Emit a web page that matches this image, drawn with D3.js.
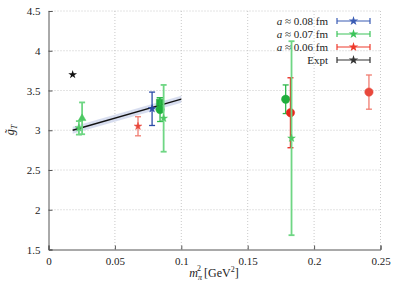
<!DOCTYPE html>
<html><head><meta charset="utf-8">
<script src="https://cdn.jsdelivr.net/npm/d3@7"></script>
<style>body{margin:0;background:#fff}svg{display:block}text{font-family:"Liberation Serif","DejaVu Serif",serif;fill:#222}</style>
</head><body><svg id="c" width="398" height="284"></svg>
<script>
// ---- data ----
const xTicks = [0, 0.05, 0.1, 0.15, 0.2, 0.25];
const xTickLabels = ["0", "0.05", "0.1", "0.15", "0.2", "0.25"];
const yTicks = [1.5, 2, 2.5, 3, 3.5, 4, 4.5];
const yTickLabels = ["1.5", "2", "2.5", "3", "3.5", "4", "4.5"];

const seriesNames = ["a ≈ 0.08 fm", "a ≈ 0.07 fm", "a ≈ 0.06 fm", "Expt"];
const seriesColors = ["#3a5cb4", "#3cc45a", "#ee3a2c", "#333333"];

// points: x (m_pi^2), y (g_T), error, series index, marker, shade
const ptX      = [0.0229, 0.0253, 0.0674, 0.0780, 0.0837, 0.0840, 0.0867, 0.1786, 0.1822, 0.1830, 0.2413];
const ptY      = [3.03,   3.15,   3.05,   3.27,   3.35,   3.26,   3.15,   3.39,   3.22,   2.90,   3.48];
const ptErr    = [0.085,  0.20,   0.12,   0.21,   0.06,   0.15,   0.42,   0.18,   0.44,   1.22,   0.215];
const ptSeries = [1,      1,      2,      0,      1,      1,      1,      1,      2,      1,      2];
const ptMarker = ["star", "triangle", "star", "star", "square", "circle", "star", "circle", "circle", "star", "circle"];
const ptShade  = ["light", "light", "light", "dark", "dark", "dark", "light", "dark", "dark", "light", "light"];

const exptX = [0.0182];
const exptY = [3.70];

const fitX = [0.0182, 0.1];
const fitY = [3.00, 3.39];
const fitErr = [0.045, 0.045];

// ---- drawing ----
const FONT = '"Liberation Serif","DejaVu Serif",serif';
const svg = d3.select("#c");
const L = 48.5, R = 380.5, T = 11, B = 249.5;
const x = d3.scaleLinear().domain([0, 0.25]).range([L, R]);
const y = d3.scaleLinear().domain([1.5, 4.5]).range([B, T]);

const darkCol = {0: "#2a4aa6", 1: "#1fae3c", 2: "#e8241a", 3: "#222"};
const lightCol = {0: "#5a7cc8", 1: "#6fd684", 2: "#f07c70", 3: "#555"};

// grid
const g = svg.append("g");
g.selectAll(".gx").data(xTicks.slice(1)).enter().append("line")
  .attr("x1", d => x(d)).attr("x2", d => x(d)).attr("y1", T).attr("y2", B)
  .attr("stroke", "#bbb").attr("stroke-width", 0.8).attr("stroke-dasharray", "1,2");
g.selectAll(".gy").data(yTicks.slice(1)).enter().append("line")
  .attr("y1", d => y(d)).attr("y2", d => y(d)).attr("x1", L).attr("x2", R)
  .attr("stroke", "#bbb").attr("stroke-width", 0.8).attr("stroke-dasharray", "1,2");

// axes
const xAxis = d3.axisBottom(x).tickValues(xTicks).tickFormat((d, i) => xTickLabels[i]).tickSize(-4).tickPadding(8);
const yAxis = d3.axisLeft(y).tickValues(yTicks).tickFormat((d, i) => yTickLabels[i]).tickSize(-4).tickPadding(8);
const xa = svg.append("g").attr("transform", `translate(0,${B})`).call(xAxis);
const ya = svg.append("g").attr("transform", `translate(${L},0)`).call(yAxis);
[xa, ya].forEach(a => {
  a.attr("font-family", FONT).attr("font-size", 11);
  a.select(".domain").attr("stroke", "#555").attr("stroke-width", 1);
  a.selectAll(".tick line").attr("stroke", "#555");
  a.selectAll("text").attr("font-size", 11).attr("fill", "#222").attr("font-family", FONT);
});

// fit band + line
const area = d3.area().x((d, i) => x(fitX[i])).y0((d, i) => y(fitY[i] - fitErr[i])).y1((d, i) => y(fitY[i] + fitErr[i]));
svg.append("path").datum(fitX).attr("d", area).attr("fill", "#c9d2ea").attr("opacity", 0.75);
const line = d3.line().x((d, i) => x(fitX[i])).y((d, i) => y(fitY[i]));
svg.append("path").datum(fitX).attr("d", line).attr("stroke", "#111").attr("stroke-width", 1.3).attr("fill", "none");

// symbols
function sym(m) {
  if (m === "star") return d3.symbol().type(d3.symbolStar).size(18)();
  if (m === "triangle") return d3.symbol().type(d3.symbolTriangle).size(26)();
  if (m === "square") return d3.symbol().type(d3.symbolSquare).size(42)();
  return d3.symbol().type(d3.symbolCircle).size(55)();
}

const idx = d3.range(ptX.length);
const pts = svg.append("g");
idx.forEach(i => {
  const s = ptSeries[i];
  const barCol = ptShade[i] === "light" ? lightCol[s] : (s === 1 ? "#2db84a" : darkCol[s]);
  const mkCol = ptShade[i] === "light" ? (s === 1 ? "#4cc862" : "#e8483c") : darkCol[s];
  const cx = x(ptX[i]);
  const y0 = y(ptY[i] - ptErr[i]), y1 = y(ptY[i] + ptErr[i]);
  const gg = pts.append("g");
  const w = (s === 1 && ptShade[i] === "light") ? 1.8 : 1.3;
  gg.append("line").attr("x1", cx).attr("x2", cx).attr("y1", y0).attr("y2", y1).attr("stroke", barCol).attr("stroke-width", w);
  [y0, y1].forEach(yy => gg.append("line").attr("x1", cx - 3).attr("x2", cx + 3).attr("y1", yy).attr("y2", yy).attr("stroke", barCol).attr("stroke-width", w));
  gg.append("path").attr("d", sym(ptMarker[i])).attr("transform", `translate(${cx},${y(ptY[i])})`).attr("fill", mkCol).attr("stroke", mkCol).attr("stroke-width", 0.5);
});

// expt
svg.selectAll(".ex").data(exptX).enter().append("path")
  .attr("d", d3.symbol().type(d3.symbolStar).size(24)())
  .attr("transform", (d, i) => `translate(${x(d)},${y(exptY[i])})`)
  .attr("fill", "#111");

// legend
const lg = svg.append("g");
const legY = [21, 34, 47, 60];
seriesNames.forEach((n, i) => {
  const yy = legY[i];
  const t = lg.append("text").attr("x", 328).attr("y", yy + 4).attr("text-anchor", "end").attr("font-size", 11);
  if (n.startsWith("a ")) {
    t.append("tspan").attr("font-style", "italic").text("a");
    t.append("tspan").text(n.slice(1));
  } else t.text(n);
  const c = seriesColors[i];
  lg.append("line").attr("x1", 337).attr("x2", 370).attr("y1", yy).attr("y2", yy).attr("stroke", c).attr("stroke-width", 1.2);
  [337, 370].forEach(xx => lg.append("line").attr("x1", xx).attr("x2", xx).attr("y1", yy - 3).attr("y2", yy + 3).attr("stroke", c).attr("stroke-width", 1.2));
  lg.append("path").attr("d", d3.symbol().type(d3.symbolStar).size(28)()).attr("transform", `translate(353.5,${yy})`).attr("fill", c);
});

// axis titles
const xt = svg.append("text").attr("x", 214).attr("y", 277).attr("text-anchor", "middle").attr("font-size", 12);
xt.append("tspan").attr("font-style", "italic").text("m");
xt.append("tspan").attr("font-style", "italic").attr("font-size", 8).attr("dy", 3).text("π");
xt.append("tspan").attr("font-size", 8).attr("dx", -5).attr("dy", -9).text("2");
xt.append("tspan").attr("dx", 3).attr("dy", 6).text("[GeV");
xt.append("tspan").attr("font-size", 8).attr("dy", -5).text("2");
xt.append("tspan").attr("dy", 5).text("]");

const yt = svg.append("text").attr("transform", "translate(14,130) rotate(-90)").attr("text-anchor", "middle").attr("font-size", 12);
yt.append("tspan").attr("font-style", "italic").text("g\u0303");
yt.append("tspan").attr("font-style", "italic").attr("font-size", 8).attr("dy", 3).text("T");
</script></body></html>
